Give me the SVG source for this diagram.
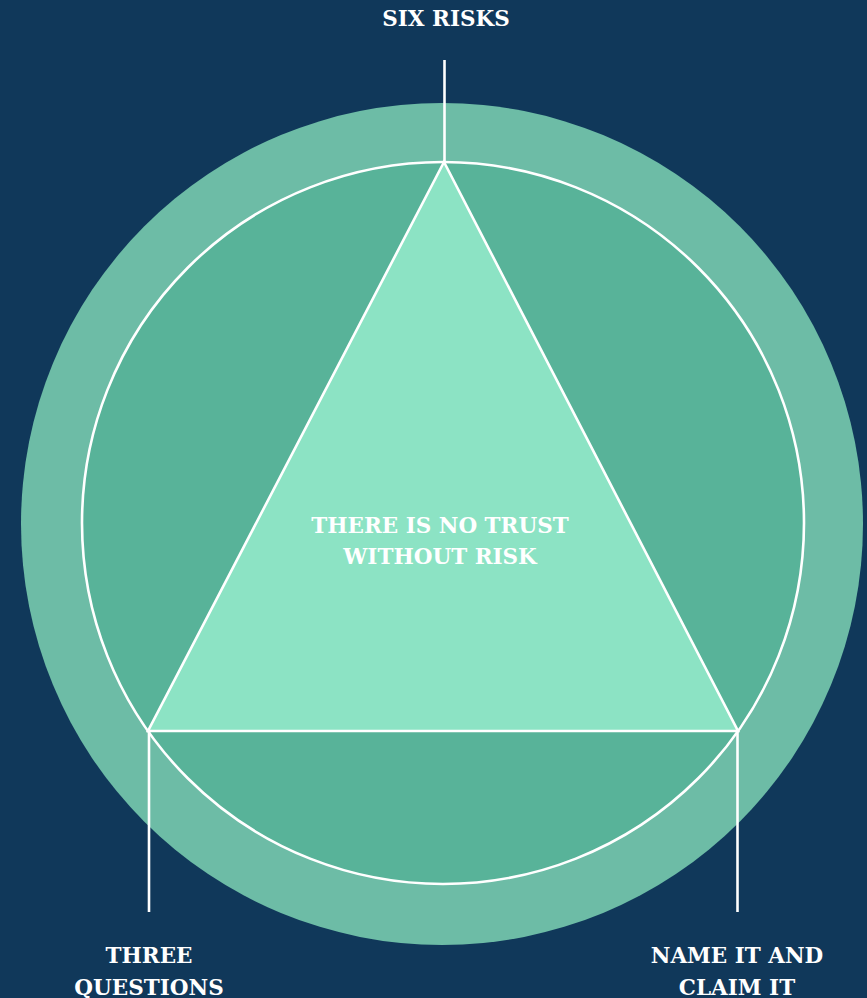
<svg xmlns="http://www.w3.org/2000/svg" width="867" height="998" viewBox="0 0 867 998">
<style>
.lbl{font-family:"DejaVu Serif","Liberation Serif",serif;font-weight:bold;font-size:21.5px;fill:#ffffff;text-anchor:middle}
.ln{stroke:#ffffff;stroke-width:2.6;fill:none}
</style>
<rect x="0" y="0" width="867" height="998" fill="#10385a"/>
<g id="outer-ring"><circle cx="442" cy="524" r="421" fill="#6dbca6"/></g>
<g id="inner-circle"><circle cx="443" cy="523" r="361" fill="#58b399" stroke="#ffffff" stroke-width="2.6"/></g>
<g id="triangle">
<polygon points="444,162 148,731 738,731" fill="#8ce3c4" stroke="#ffffff" stroke-width="2.6" stroke-linejoin="miter"/>
<text class="lbl" x="440" y="533">THERE IS NO TRUST</text>
<text class="lbl" x="440" y="564">WITHOUT RISK</text>
</g>
<g id="connectors">
<line class="ln" x1="444.5" y1="60" x2="444.5" y2="162"/>
<line class="ln" x1="149" y1="731" x2="149" y2="912"/>
<line class="ln" x1="737.5" y1="731" x2="737.5" y2="912"/>
</g>
<g id="six-risks"><text class="lbl" x="446" y="26">SIX RISKS</text></g>
<g id="three-questions">
<text class="lbl" x="149" y="963">THREE</text>
<text class="lbl" x="149" y="995">QUESTIONS</text>
</g>
<g id="name-it">
<text class="lbl" x="737" y="963">NAME IT AND</text>
<text class="lbl" x="737" y="995">CLAIM IT</text>
</g>
</svg>
